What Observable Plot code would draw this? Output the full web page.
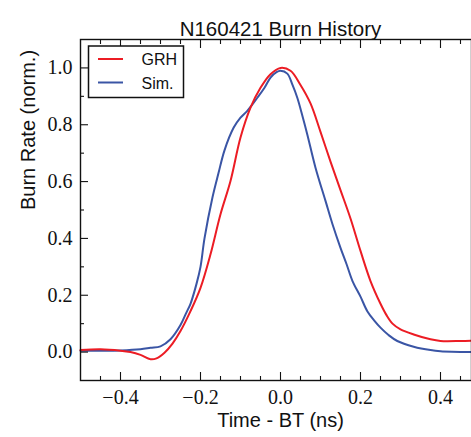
<!DOCTYPE html>
<html>
<head>
<meta charset="utf-8">
<script src="https://cdn.jsdelivr.net/npm/d3@7"></script>
<script src="https://cdn.jsdelivr.net/npm/@observablehq/plot@0.6"></script>
<style>
  html, body { margin: 0; padding: 0; background: #fff; }
  #chart { position: relative; width: 471px; height: 437px; overflow: hidden; }
</style>
</head>
<body>
<div id="chart"></div>
<script>
const title = "N160421 Burn History";
const xLabel = "Time - BT (ns)";
const yLabel = "Burn Rate (norm.)";
const seriesNames = ["GRH", "Sim."];
const seriesColors = ["#ec1c24", "#3a55a5"];

const grhTime = [-0.5, -0.45, -0.4, -0.375, -0.35, -0.325, -0.31, -0.29, -0.27, -0.25, -0.225, -0.2, -0.175, -0.15, -0.125, -0.1, -0.075, -0.05, -0.025, 0, 0.025, 0.05, 0.075, 0.1, 0.125, 0.15, 0.175, 0.2, 0.225, 0.25, 0.265, 0.28, 0.3, 0.333, 0.375, 0.4, 0.45, 0.4775];
const grhRate = [0.007, 0.01, 0.005, 0.0, -0.01, -0.025, -0.022, -0.002, 0.03, 0.074, 0.144, 0.226, 0.344, 0.485, 0.602, 0.755, 0.86, 0.93, 0.978, 1.0, 0.99, 0.94, 0.875, 0.775, 0.67, 0.57, 0.47, 0.356, 0.25, 0.17, 0.13, 0.1, 0.08, 0.062, 0.045, 0.039, 0.039, 0.04];

const simTime = [-0.5, -0.45, -0.4, -0.35, -0.325, -0.3, -0.275, -0.25, -0.235, -0.225, -0.21, -0.2, -0.19, -0.17, -0.155, -0.14, -0.117, -0.1, -0.083, -0.058, -0.04, -0.025, -0.01, 0, 0.017, 0.03, 0.042, 0.055, 0.067, 0.0875, 0.1125, 0.13, 0.15, 0.165, 0.18, 0.2, 0.217, 0.235, 0.25, 0.27, 0.292, 0.333, 0.375, 0.4, 0.4775];
const simRate = [0.005, 0.005, 0.006, 0.01, 0.015, 0.02, 0.045, 0.095, 0.14, 0.17, 0.24, 0.3, 0.4, 0.545, 0.63, 0.71, 0.79, 0.825, 0.849, 0.895, 0.93, 0.966, 0.985, 0.99, 0.98, 0.94, 0.895, 0.83, 0.766, 0.649, 0.532, 0.45, 0.367, 0.31, 0.25, 0.195, 0.144, 0.11, 0.086, 0.06, 0.039, 0.019, 0.007, 0.003, 0.0];

const xMajor = [-0.4, -0.2, 0, 0.2, 0.4];
const xMinor = [-0.45, -0.35, -0.3, -0.25, -0.15, -0.1, -0.05, 0.05, 0.1, 0.15, 0.25, 0.3, 0.35, 0.45];
const yMajor = [0, 0.2, 0.4, 0.6, 0.8, 1.0];
const yMinor = [0.1, 0.3, 0.5, 0.7, 0.9];

const grh = grhTime.map((t, i) => ({t, r: grhRate[i], s: seriesNames[0]}));
const sim = simTime.map((t, i) => ({t, r: simRate[i], s: seriesNames[1]}));

const serif = "Liberation Serif";
const sans = "Liberation Sans";
const ink = "#111";

const tickAxis = (fn, anchor, ticks, size) =>
  fn({anchor, ticks, tickSize: size, tickFormat: () => "", label: null, stroke: ink, strokeWidth: 1.1});

const chart = Plot.plot({
  width: 471,
  height: 437,
  marginLeft: 80,
  marginRight: 0,
  marginTop: 39,
  marginBottom: 57,
  style: {background: "#fff", overflow: "visible"},
  x: {domain: [-0.5, 0.4775]},
  y: {domain: [-0.1, 1.1]},
  color: {domain: seriesNames, range: seriesColors},
  marks: [
    Plot.line(sim, {x: "t", y: "r", stroke: "s", strokeWidth: 2, curve: "catmull-rom"}),
    Plot.line(grh, {x: "t", y: "r", stroke: "s", strokeWidth: 2, curve: "catmull-rom"}),
    // inward ticks
    tickAxis(Plot.axisX, "bottom", xMajor, -8),
    tickAxis(Plot.axisX, "bottom", xMinor, -4),
    tickAxis(Plot.axisX, "top", xMajor, -8),
    tickAxis(Plot.axisX, "top", xMinor, -4),
    tickAxis(Plot.axisY, "left", yMajor, -8),
    tickAxis(Plot.axisY, "left", yMinor, -4),
    // tick labels
    Plot.axisX({anchor: "bottom", ticks: xMajor, tickSize: 0, tickPadding: 9, tickFormat: ".1f", label: null, fontFamily: serif, fontSize: 20, fill: ink}),
    Plot.axisY({anchor: "left", ticks: yMajor, tickSize: 0, tickPadding: 8, tickFormat: ".1f", label: null, fontFamily: serif, fontSize: 20, fill: ink}),
    Plot.frame({stroke: ink, strokeWidth: 1.4}),
    Plot.text([title], {x: 0, frameAnchor: "top", dy: -18, fontFamily: sans, fontSize: 20.5, fill: "#111"}),
    Plot.text([xLabel], {x: 0, frameAnchor: "bottom", dy: 46, fontFamily: sans, fontSize: 20, fill: "#111"}),
    Plot.text([yLabel], {frameAnchor: "left", dx: -52, rotate: -90, fontFamily: sans, fontSize: 20, fill: "#111"})
  ]
});

document.getElementById("chart").appendChild(chart);

// legend box
const svg = d3.select(chart);
const lg = svg.append("g").attr("font-family", sans).attr("font-size", 16).attr("text-anchor", "start");
lg.append("rect").attr("x", 88.5).attr("y", 46).attr("width", 95).attr("height", 51.5)
  .attr("fill", "#fff").attr("stroke", ink).attr("stroke-width", 1.5);
seriesNames.forEach((name, i) => {
  const yy = 59 + i * 23.5;
  lg.append("line").attr("x1", 98).attr("x2", 123).attr("y1", yy).attr("y2", yy)
    .attr("stroke", seriesColors[i]).attr("stroke-width", 2);
  lg.append("text").attr("x", 141.5).attr("y", yy + 6).attr("fill", "#111").text(name);
});
</script>
</body>
</html>
